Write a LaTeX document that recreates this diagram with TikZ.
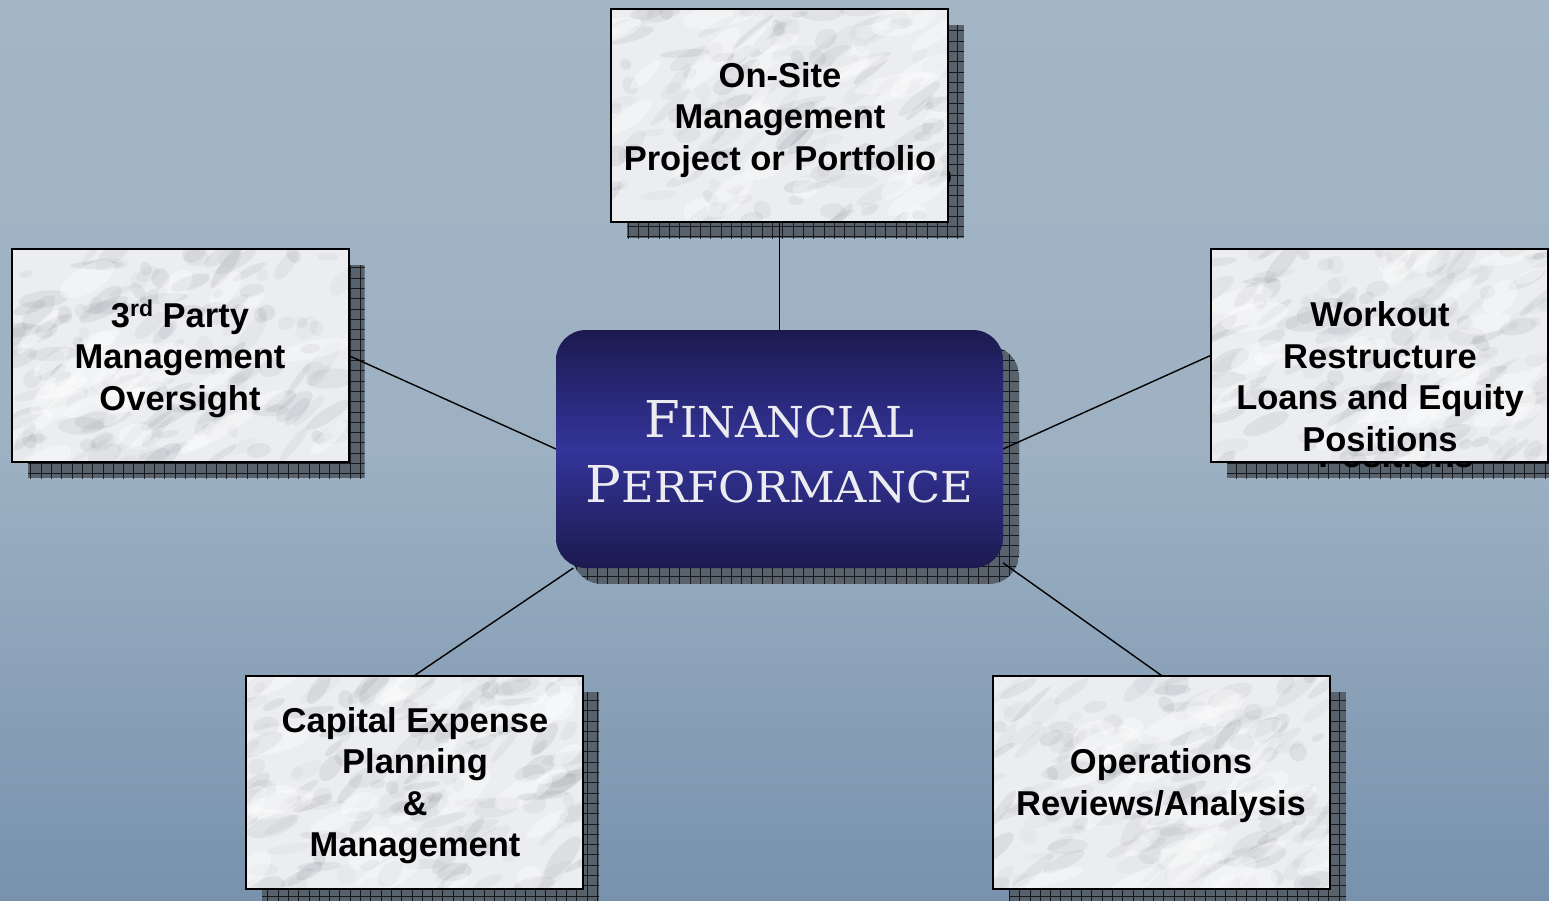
\documentclass[tikz,border=0pt]{standalone}
\usepackage{fontspec}
\usepackage{graphicx}
\usetikzlibrary{calc}
\newfontfamily\labelfont{Liberation Sans}
\newfontfamily\hubserif{DejaVu Serif}

\definecolor{bgtop}{HTML}{A4B6C5}
\definecolor{bgmid}{HTML}{9DB1C3}
\definecolor{bgbot}{HTML}{7892AD}
\definecolor{navyedge}{HTML}{1B1A4F}
\definecolor{navymid}{HTML}{34349A}
\definecolor{shadowfill}{HTML}{58626C}
\definecolor{marblebase}{HTML}{ECEDF0}
\definecolor{veingray}{HTML}{7E848C}
\definecolor{capswhite}{HTML}{ECECF0}

\newcommand\panelfont{\labelfont\bfseries\fontsize{34.5}{41.5}\selectfont}
\newcommand\hubfont{\hubserif\fontsize{37}{65}\selectfont}
% hand-made small capitals: one large initial, the rest smaller
\newcommand\fakesc[2]{{\fontsize{20}{20}\selectfont#1}{\fontsize{16.8}{16.8}\selectfont#2}}

\tikzset{
  panel/.style={rectangle, minimum width=337pt, minimum height=213pt, inner sep=0pt, outer sep=0pt},
  hub/.style={rectangle, minimum width=447pt, minimum height=238pt, inner sep=0pt, outer sep=0pt},
  link/.style={draw=black, line width=1.4pt},
  panelborder/.style={draw=black, line width=2pt},
  shadowgrid/.style={draw=black, line width=0.9pt, opacity=0.75},
  paneltext/.style={font=\panelfont, text=black, inner sep=0pt, anchor=base},
  hubtext/.style={font=\hubfont, text=capswhite, inner sep=0pt, anchor=base},
}

% drop shadow with a grid texture, offset down and right
\newcommand\gridshade[2][0]{%
  \begin{scope}
    \path[clip, rounded corners=#1pt] ($(#2.north west)+(16,16)$) rectangle ($(#2.south east)+(16,16)$);
    \fill[shadowfill] ($(#2.north west)+(16,16)$) rectangle ($(#2.south east)+(16,16)$);
    \draw[shadowgrid, step=10.3pt] ($(#2.north west)+(16,16)$) grid ($(#2.south east)+(26,26)$);
  \end{scope}}

% white marble fill with soft grey clouding
\newcommand\marble[2]{%
  \begin{scope}
    \clip (#1.north west) rectangle (#1.south east);
    \fill[marblebase] (#1.north west) rectangle (#1.south east);
    \pgfmathsetseed{#2}
    \foreach \k in {1,...,150}{
      \pgfmathsetmacro\mx{rnd*337}
      \pgfmathsetmacro\my{rnd*213}
      \pgfmathsetmacro\ma{5+22*rnd}
      \pgfmathsetmacro\mb{3+7*rnd}
      \pgfmathsetmacro\mr{0+55*rnd}
      \pgfmathsetmacro\mo{0.04+0.11*rnd}
      \coordinate (cloud) at ($(#1.north west)+(\mx,\my)$);
      \fill[veingray, opacity=\mo, rotate around={\mr:(cloud)}] (cloud) ellipse (\ma pt and \mb pt);
    }
    \foreach \k in {1,...,30}{
      \pgfmathsetmacro\mx{rnd*337}
      \pgfmathsetmacro\my{rnd*213}
      \pgfmathsetmacro\ma{12+30*rnd}
      \pgfmathsetmacro\mb{5+9*rnd}
      \pgfmathsetmacro\mr{10+40*rnd}
      \coordinate (gleam) at ($(#1.north west)+(\mx,\my)$);
      \fill[white, opacity=0.35, rotate around={\mr:(gleam)}] (gleam) ellipse (\ma pt and \mb pt);
    }
  \end{scope}
  \draw[panelborder] (#1.north west) rectangle (#1.south east);}

\newcommand\txtonsite{\begin{tabular}[t]{@{}c@{}}On-Site\\Management\\Project or Portfolio\end{tabular}}
\newcommand\txtthird{\begin{tabular}[t]{@{}c@{}}3\raisebox{11pt}{\fontsize{23}{23}\selectfont rd} Party\\Management\\Oversight\end{tabular}}
\newcommand\txtworkout{\begin{tabular}[t]{@{}c@{}}Workout\\Restructure\\Loans and Equity\\Positions\end{tabular}}
\newcommand\txtcapex{\begin{tabular}[t]{@{}c@{}}Capital Expense\\Planning\\\&\\Management\end{tabular}}
\newcommand\txtops{\begin{tabular}[t]{@{}c@{}}Operations\\Reviews/Analysis\end{tabular}}

\begin{document}
\begin{tikzpicture}[x=1pt, y=-1pt]
  \useasboundingbox (0,0) rectangle (1549,900);
  \clip (0,0) rectangle (1549,900);

  % backdrop
  \shade[top color=bgtop, bottom color=bgbot, middle color=bgmid] (0,0) rectangle (1549,900);

  % node frames
  \node[panel] (onsite)     at (779.5,115.5) {};
  \node[panel] (thirdparty) at (180,355.5) {};
  \node[panel] (workout)    at (1379,355.5) {};
  \node[panel] (capex)      at (414.5,782) {};
  \node[panel] (operations) at (1161.5,782) {};
  \node[hub]   (perf)       at (779.5,449) {};

  % shadows
  \gridshade{onsite}
  \gridshade{thirdparty}
  \gridshade{workout}
  \gridshade{capex}
  \gridshade{operations}
  \gridshade[30]{perf}

  % text shadows (show only where they pass the panel edge)
  \node[paneltext] (onsite-echo)     at (796,103)    {\txtonsite};
  \node[paneltext] (thirdparty-echo) at (196,343)    {\txtthird};
  \node[paneltext] (workout-echo)    at (1396,342.5) {\txtworkout};
  \node[paneltext] (capex-echo)      at (431,748)    {\txtcapex};
  \node[paneltext] (operations-echo) at (1177,789.5) {\txtops};

  % connectors
  \draw[link] (onsite.south) -- (perf.north);
  \draw[link] (thirdparty.east) -- (perf.west);
  \draw[link] (workout.west) -- (perf.east);
  \draw[link] (capex.north) -- (perf.210);
  \draw[link] (operations.north) -- (perf.333);

  % marble panels
  \marble{onsite}{11}
  \marble{thirdparty}{23}
  \marble{workout}{37}
  \marble{capex}{41}
  \marble{operations}{59}

  % central panel
  \shade[top color=navyedge, bottom color=navyedge, middle color=navymid, rounded corners=30pt]
    (perf.north west) rectangle (perf.south east);

  % labels
  \node[paneltext] (onsite-label)     at (780,87)     {\txtonsite};
  \node[paneltext] (thirdparty-label) at (180,327)    {\txtthird};
  \node[paneltext] (workout-label)    at (1380,326.5) {\txtworkout};
  \node[paneltext] (capex-label)      at (415,732)    {\txtcapex};
  \node[paneltext] (operations-label) at (1161,773.5) {\txtops};
  \node[hubtext] (perf-label) at (779.5,437)
    {\begin{tabular}[t]{@{}c@{}}\resizebox{270pt}{37pt}{\fakesc{F}{INANCIAL}}\\
      \resizebox{387pt}{37pt}{\fakesc{P}{ERFORMANCE}}\end{tabular}};
\end{tikzpicture}
\end{document}
